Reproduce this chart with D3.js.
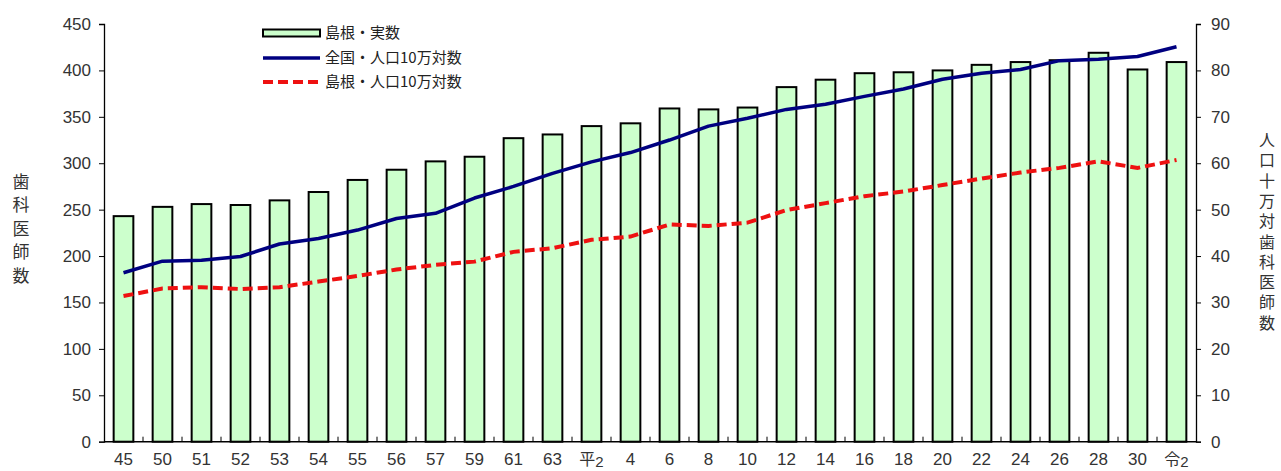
<!DOCTYPE html>
<html><head><meta charset="utf-8">
<script src="https://cdn.jsdelivr.net/npm/d3@7/dist/d3.min.js"></script>
<style>body{margin:0;background:#fff}svg{display:block}</style>
</head><body>
<svg id="c" width="1281" height="471"></svg>
<script>
const categories = ["45","50","51","52","53","54","55","56","57","59","61","63","平2","4","6","8","10","12","14","16","18","20","22","24","26","28","30","令2"];
const shimaneCount = [243,253,256,255,260,269,282,293,302,307,327,331,340,343,359,358,360,382,390,397,398,400,406,409,411,419,401,409];
const nationalRate = [36.4,38.9,39.1,39.9,42.6,43.8,45.6,48.1,49.2,52.5,55.0,57.8,60.3,62.3,65.0,68.0,69.7,71.6,72.7,74.4,76.0,78.1,79.4,80.2,82.1,82.4,83.0,85.1];
const shimaneRate = [31.4,33.0,33.3,32.9,33.3,34.5,35.7,37.1,38.1,38.8,40.9,41.7,43.5,44.2,46.8,46.5,47.2,49.9,51.4,52.9,53.9,55.3,56.7,58.0,59.0,60.4,59.0,60.7];
const leftTicks = [0,50,100,150,200,250,300,350,400,450];
const rightTicks = [0,10,20,30,40,50,60,70,80,90];
const legendLabels = ["島根・実数","全国・人口10万対数","島根・人口10万対数"];
const leftTitle = "歯科医師数";
const rightTitle = "人口十万対歯科医師数";

const svg = d3.select("#c");
const L = 104, R = 1196, T = 24, B = 441.7;
const x = d3.scaleBand().domain(categories).range([L, R]).paddingInner(0.495).paddingOuter(0.2475);
const yL = d3.scaleLinear().domain([0,450]).range([B, T]);
const yR = d3.scaleLinear().domain([0,90]).range([B, T]);
const numFont = "'Liberation Sans', Arial, sans-serif";
const jpFont = "'Noto Sans CJK JP', sans-serif";

// bars
svg.append("g").selectAll("rect").data(categories).join("rect")
  .attr("x", d => x(d)).attr("width", x.bandwidth())
  .attr("y", (d,i) => yL(shimaneCount[i])).attr("height", (d,i) => B - yL(shimaneCount[i]))
  .attr("fill", "#ccffcc").attr("stroke", "#000").attr("stroke-width", 2);

// left axis
const gl = svg.append("g").attr("transform", `translate(${L},0)`)
  .call(d3.axisLeft(yL).tickValues(leftTicks).tickSize(5).tickPadding(8));
gl.select(".domain").attr("stroke", "#000").attr("stroke-width", 1.3);
gl.selectAll(".tick line").attr("stroke", "#000");
gl.selectAll(".tick text").attr("font-family", numFont).attr("font-size", 17).attr("fill", "#333");

// right axis
const gr = svg.append("g").attr("transform", `translate(${R},0)`)
  .call(d3.axisRight(yR).tickValues(rightTicks).tickSize(5).tickPadding(10));
gr.select(".domain").attr("stroke", "#000").attr("stroke-width", 1.3);
gr.selectAll(".tick line").attr("stroke", "#000");
gr.selectAll(".tick text").attr("font-family", numFont).attr("font-size", 17).attr("fill", "#333");

// x baseline and minor ticks at band boundaries
svg.append("line").attr("x1", L).attr("x2", R).attr("y1", B).attr("y2", B).attr("stroke", "#000").attr("stroke-width", 1.5);
const step = x.step();
svg.append("g").selectAll("line").data(categories.slice(1)).join("line")
  .attr("x1", d => x(d) - (step - x.bandwidth())/2).attr("x2", d => x(d) - (step - x.bandwidth())/2)
  .attr("y1", B).attr("y2", B - 5).attr("stroke", "#000").attr("stroke-width", 1);

// x labels
const xl = svg.append("g");
categories.forEach(c => {
  const cx = x(c) + x.bandwidth()/2;
  const t = xl.append("text").attr("x", cx).attr("y", 465).attr("text-anchor", "middle")
    .attr("font-family", numFont).attr("font-size", 17).attr("fill", "#333");
  if (c.length > 1 && /[^0-9]/.test(c[0])) {
    t.append("tspan").attr("font-family", jpFont).attr("font-size", 16).text(c[0]);
    t.append("tspan").attr("font-size", 15).attr("dy", 2).text(c.slice(1));
  } else t.text(c);
});

// lines
const lineN = d3.line().x((d,i) => x(categories[i]) + x.bandwidth()/2).y(d => yR(d));
svg.append("path").datum(nationalRate).attr("d", lineN).attr("fill", "none")
  .attr("stroke", "#000080").attr("stroke-width", 3.5).attr("stroke-linejoin", "round");
svg.append("path").datum(shimaneRate).attr("d", lineN).attr("fill", "none")
  .attr("stroke", "#ee1111").attr("stroke-width", 4).attr("stroke-dasharray", "10,5");

// axis titles (vertical writing)
svg.append("text").attr("x", 21).attr("y", 173)
  .style("writing-mode", "vertical-rl").style("letter-spacing", "6.5px")
  .attr("font-family", jpFont).attr("font-size", 17).attr("fill", "#333").text(leftTitle);
svg.append("text").attr("x", 1267).attr("y", 132)
  .style("writing-mode", "vertical-rl").style("letter-spacing", "4.3px")
  .attr("font-family", jpFont).attr("font-size", 16).attr("fill", "#333").text(rightTitle);

// legend
const lg = svg.append("g");
const rows = [33, 58, 82];
lg.append("rect").attr("x", 263).attr("y", rows[0]-3.5).attr("width", 57).attr("height", 7)
  .attr("fill", "#ccffcc").attr("stroke", "#000").attr("stroke-width", 2);
lg.append("line").attr("x1", 263).attr("x2", 320).attr("y1", rows[1]).attr("y2", rows[1])
  .attr("stroke", "#000080").attr("stroke-width", 3.5);
lg.append("line").attr("x1", 263).attr("x2", 320).attr("y1", rows[2]).attr("y2", rows[2])
  .attr("stroke", "#ee1111").attr("stroke-width", 4).attr("stroke-dasharray", "10,5");
legendLabels.forEach((t, i) => lg.append("text").attr("x", 325).attr("y", rows[i]).attr("dy", "0.35em")
  .attr("font-family", jpFont).attr("font-size", 15).attr("fill", "#222").text(t));
</script>
</body></html>
